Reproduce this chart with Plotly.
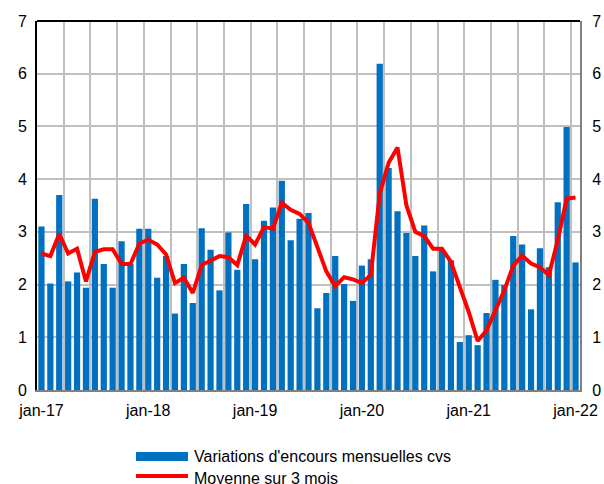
import plotly.graph_objects as go

months = list(range(61))
tick_pos = [0, 12, 24, 36, 48, 60]
tick_labels = ["jan-17", "jan-18", "jan-19", "jan-20", "jan-21", "jan-22"]

variations = [3.10, 2.02, 3.70, 2.06, 2.23, 1.94, 3.63, 2.39, 1.94, 2.82,
              2.39, 3.06, 3.06, 2.13, 2.54, 1.45, 2.39, 1.65, 3.07, 2.66,
              1.89, 2.99, 2.28, 3.53, 2.48, 3.21, 3.46, 3.97, 2.84, 3.25,
              3.36, 1.55, 1.84, 2.54, 2.01, 1.69, 2.36, 2.48, 6.19, 4.21,
              3.39, 2.98, 2.54, 3.12, 2.25, 2.66, 2.46, 0.91, 1.04, 0.85,
              1.46, 2.09, 1.99, 2.92, 2.76, 1.53, 2.69, 2.33, 3.56, 4.99,
              2.42]

moyenne = [2.59, 2.54, 2.96, 2.59, 2.68, 2.06, 2.62, 2.67, 2.67, 2.39,
           2.39, 2.78, 2.85, 2.76, 2.57, 2.03, 2.13, 1.84, 2.37, 2.46,
           2.54, 2.52, 2.37, 2.93, 2.76, 3.09, 3.06, 3.55, 3.42, 3.34,
           3.17, 2.71, 2.25, 1.97, 2.14, 2.10, 2.03, 2.18, 3.72, 4.31,
           4.60, 3.50, 3.00, 2.92, 2.68, 2.68, 2.43, 1.95, 1.48, 0.93,
           1.13, 1.51, 1.89, 2.36, 2.55, 2.40, 2.33, 2.18, 2.84, 3.63,
           3.65]

BLUE = "#0070C0"
RED = "#FF0000"
GRID = "#BFBFBF"
FONT = "Liberation Sans, Arial, sans-serif"

fig = go.Figure()
fig.add_trace(go.Bar(x=months, y=variations, marker_color=BLUE, marker_line_width=0,
                     name="Variations d'encours mensuelles cvs", showlegend=False))
fig.add_trace(go.Scatter(x=months, y=moyenne, mode="lines", line=dict(color=RED, width=4),
                         name="Moyenne sur 3 mois", showlegend=False))
# invisible trace to activate right axis
fig.add_trace(go.Scatter(x=[0], y=[0], yaxis="y2", mode="markers",
                         marker=dict(opacity=0), showlegend=False, hoverinfo="skip"))

L, R, T, B = 37, 580, 21, 390
W, H = 604, 484

fig.update_layout(
    width=W, height=H,
    margin=dict(l=L, r=W - R, t=T, b=H - B, autoexpand=False),
    plot_bgcolor="white", paper_bgcolor="white",
    bargap=0.3,
    font=dict(family=FONT, size=16, color="black"),
    xaxis=dict(range=[-0.5, 60.5], tickmode="array", tickvals=tick_pos, ticktext=tick_labels,
               showgrid=False, showline=True, linecolor="#808080", linewidth=2,
               ticks="", zeroline=False, automargin=False, ticklabelstandoff=5,
               minor=dict(tick0=2.5, dtick=3, showgrid=True, gridcolor=GRID, gridwidth=1.5, ticks="")),
    yaxis=dict(range=[0, 7], dtick=1, showgrid=True, gridcolor=GRID, gridwidth=1.5,
               showline=True, linecolor="black", linewidth=2, ticks="", zeroline=False,
               ticklabelstandoff=5, automargin=False),
    yaxis2=dict(range=[0, 7], dtick=1, overlaying="y", side="right", showgrid=False,
                showline=True, linecolor="#808080", linewidth=2, ticks="", zeroline=False,
                ticklabelstandoff=7, automargin=False),
)

# top border
fig.add_shape(type="line", xref="paper", yref="paper", x0=0, x1=1, y0=1, y1=1,
              line=dict(color="black", width=2))

def px_x(x):
    return (x - L) / (R - L)

def px_y(y):
    return (B - y) / (B - T)

# manual legend
fig.add_shape(type="rect", xref="paper", yref="paper",
              x0=px_x(136), x1=px_x(188), y0=px_y(461), y1=px_y(452),
              fillcolor=BLUE, line=dict(width=0))
fig.add_shape(type="line", xref="paper", yref="paper",
              x0=px_x(136), x1=px_x(188), y0=px_y(476), y1=px_y(476),
              line=dict(color=RED, width=4))
fig.add_annotation(xref="paper", yref="paper", x=px_x(192), y=px_y(456),
                   text="Variations d'encours mensuelles cvs", showarrow=False,
                   xanchor="left", yanchor="middle", font=dict(size=16))
fig.add_annotation(xref="paper", yref="paper", x=px_x(192), y=px_y(478),
                   text="Moyenne sur 3 mois", showarrow=False,
                   xanchor="left", yanchor="middle", font=dict(size=16))

fig.write_html("out.html", config={"displayModeBar": False},
               post_script="document.body.style.margin='0';")
